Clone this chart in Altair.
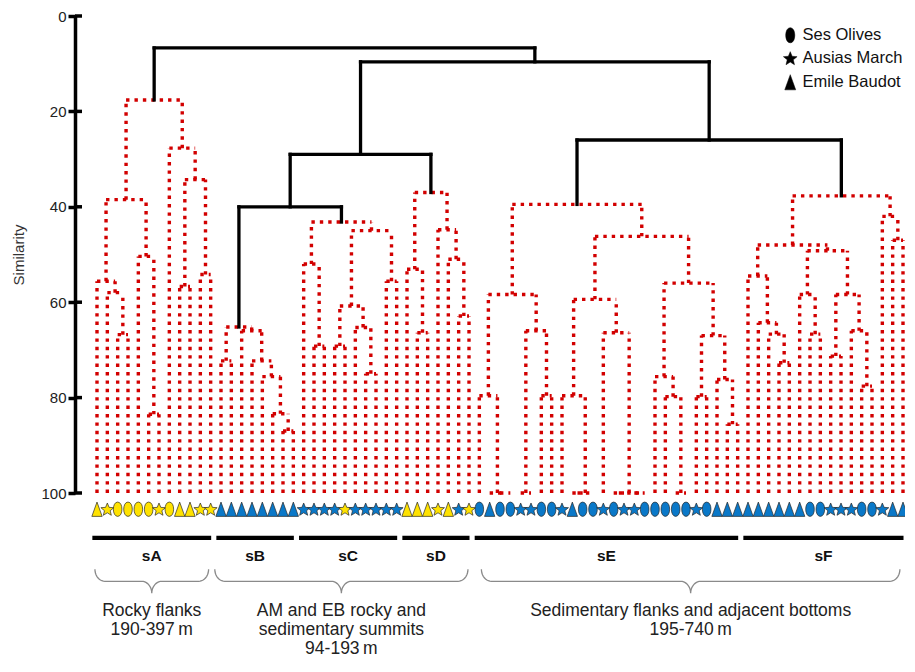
import math
import altair as alt
import pandas as pd

# ---------------- data ----------------
SITES = ["Ses Olives", "Ausias March", "Emile Baudot"]
SITE_CODE = {"O": "Ses Olives", "S": "Ausias March", "T": "Emile Baudot"}

# sample symbols, left to right (O = Ses Olives, S = Ausias March, T = Emile Baudot)
leaf_site_code = list(
    "TSOOOOSOTTSS"                  # sA
    "TTTTTTTT"                      # sB
    "SSSSSSSSSS"                    # sC
    "TTTSTSS"                       # sD
    "OTOOSSOOSTOOSOSSOOOOOSOTTT"    # sE
    "TTTTTTOOSSSOOSTT"              # sF
)
# symbol fill: Y = yellow, B = blue
leaf_fill_code = list(
    "YYYYYYYYYYYY"
    "BBBBBBBB"
    "BBBBYBBBBB"
    "YYYYYBY"
    "BBBBBBBBBBBBBBBBBBBBBBBBBB"
    "BBBBBBBBBBBBBBBB"
)

# cluster trees: [left, right, similarity]; ints are leaves
sA = [[[0, [1, [2, 3, 66.8], 58.0], 55.6], [4, [5, 6, 83.5], 50.4], 38.5],
      [7, [[8, 9, 56.7], [10, 11, 54.2], 34.3], 27.7], 17.6]
sB = [[12, 13, 72.3], [14, [15, [16, [17, [18, 19, 87.0], 83.4], 75.6], 72.3], 66.0], 65.2]
sC = [[20, [21, 22, 69.2], 52.0],
      [[[23, 24, 69.2], [25, [26, 27, 75.0], 65.3], 60.8], [28, 29, 55.6], 45.0], 43.2]
sD = [[30, [31, 32, 66.4], 53.1], [33, [34, [35, 36, 62.9], 51.0], 44.8], 37.0]
sE = [[[37, [38, [39, 40, 100.0], 100.0], 79.6], [[41, 42, 100.0], [43, 44, 79.6], 66.0], 58.4],
      [[[45, [[46, 47, 100.0], 48, 100.0], 79.6],
        [49, [[50, 51, 100.0], [52, 53, 100.0], 100.0], 66.4], 59.4],
       [[54, [55, [56, 57, 100.0], 79.8], 75.6],
        [[58, 59, 79.8], [60, [61, 62, 85.6], 76.2], 67.0], 56.0], 46.2], 39.5]
sF = [[[63, [64, [65, [66, 67, 72.7], 66.7], 64.3], 54.5],
       [[68, [69, 70, 66.7], 58.4], [[71, 72, 71.3], [73, [74, 75, 77.6], 66.0], 58.4], 49.2], 48.0],
      [76, [77, 78, 47.0], 42.0], 37.7]
clusters = {"sA": sA, "sB": sB, "sC": sC, "sD": sD, "sE": sE, "sF": sF}
# links between the groups (solid black)
skeleton = ["sA", [[["sB", "sC", 40.0], "sD", 29.0], ["sE", "sF", 26.0], 9.6], 6.7]

cluster_names = ["sA", "sB", "sC", "sD", "sE", "sF"]
cluster_first = [0, 12, 20, 30, 37, 63]
cluster_last = [11, 19, 29, 36, 62, 78]

brace_from = [-0.2, 11.4, 37.2]
brace_to = [10.8, 35.9, 77.7]
group_lines = [["Rocky flanks", "190-397\u2009m"],
               ["AM and EB rocky and", "sedimentary summits", "94-193\u2009m"],
               ["Sedimentary flanks and adjacent bottoms", "195-740\u2009m"]]

y_ticks = [0, 20, 40, 60, 80, 100]

# ---------------- layout ----------------
PLOT_W, PLOT_H = 830, 477
X_DOM = [-2.129, 78.1935]
XS = PLOT_W / (X_DOM[1] - X_DOM[0])
YS = PLOT_H / 100.0
SYM_Y, BAR_Y, LAB_Y, BRACE_Y = 103.4, 109.4, 113.3, 116.0
TEXT_Y0, TEXT_DY = 124.8, 4.0

# ---------------- build dendrogram segments ----------------
segs = []


def walk(node, kind):
    if isinstance(node, str):
        return walk(clusters[node], "red")
    if isinstance(node, int):
        return node, 100.0
    l, r, h = node
    xl, hl = walk(l, kind)
    xr, hr = walk(r, kind)
    segs.append(dict(x=xl, x2=xr, y=h, y2=h, kind=kind))
    if hl != h:
        segs.append(dict(x=xl, x2=xl, y=hl, y2=h, kind=kind))
    if hr != h:
        segs.append(dict(x=xr, x2=xr, y=hr, y2=h, kind=kind))
    return (xl + xr) / 2.0, h


walk(skeleton, "black")
seg_df = pd.DataFrame(segs)
red_df = seg_df[seg_df.kind == "red"]
black_df = seg_df[seg_df.kind == "black"]

leaf_df = pd.DataFrame({
    "x": list(range(len(leaf_site_code))),
    "y": [SYM_Y] * len(leaf_site_code),
    "site": [SITE_CODE[c] for c in leaf_site_code],
    "fillc": leaf_fill_code,
})

bar_df = pd.DataFrame({
    "name": cluster_names,
    "x": [f - 0.45 for f in cluster_first],
    "x2": [l + 0.05 for l in cluster_last],
    "y": [BAR_Y] * 6,
})
bar_df["xm"] = (bar_df.x + bar_df.x2) / 2
bar_df["ly"] = LAB_Y

brace_rows = []
for b, (xa, xb) in enumerate(zip(brace_from, brace_to)):
    rx, ry = 10.0 / XS, 12.0 / YS
    xm = (xa + xb) / 2.0
    pts = []

    def arc(cx, cy, a0, a1, n=10):
        for k in range(n + 1):
            a = a0 + (a1 - a0) * k / n
            pts.append((cx + rx * math.cos(a), cy + ry * math.sin(a)))

    arc(xa + rx, BRACE_Y, math.pi, math.pi / 2)
    arc(xm - rx, BRACE_Y + 2 * ry, -math.pi / 2, 0)
    arc(xm + rx, BRACE_Y + 2 * ry, math.pi, 1.5 * math.pi)
    arc(xb - rx, BRACE_Y, math.pi / 2, 0)
    for i, (px, py) in enumerate(pts):
        brace_rows.append(dict(b=b, i=i, x=px, y=py))
brace_df = pd.DataFrame(brace_rows)

note_rows = []
for xa, xb, lines in zip(brace_from, brace_to, group_lines):
    for k, t in enumerate(lines):
        note_rows.append(dict(x=(xa + xb) / 2.0, y=TEXT_Y0 + k * TEXT_DY, t=t))
note_df = pd.DataFrame(note_rows)

tick_df = pd.DataFrame({"y": y_ticks})

# ---------------- shapes ----------------
ellipse = "M0,-1C0.8,-1 0.8,1 0,1C-0.8,1 -0.8,-1 0,-1Z"
star_pts = []
for k in range(10):
    rad = 0.95 if k % 2 == 0 else 0.42
    a = -math.pi / 2 + k * math.pi / 5
    star_pts.append(f"{rad * math.cos(a):.3f},{rad * math.sin(a) + 0.08:.3f}")
star = "M" + "L".join(star_pts) + "Z"
tri = "M0,-1L0.72,1L-0.72,1Z"

# ---------------- chart ----------------
FONT = "Liberation Sans"
xs = alt.Scale(domain=X_DOM, nice=False, zero=False)
ys = alt.Scale(domain=[0, 100], reverse=True, nice=False, zero=False)
yaxis = alt.Axis(values=y_ticks, title="Similarity", domainColor="black", domainWidth=3.5,
                 tickColor="black", tickWidth=3.5, tickSize=7, labelFont=FONT,
                 labelFontSize=15, labelColor="#222", labelPadding=2, grid=False,
                 titleFont=FONT, titleFontSize=15, titleFontWeight="normal",
                 titleColor="#333", titlePadding=14)


def X(f="x"):
    return alt.X(f"{f}:Q", scale=xs, axis=None)


def Y(f="y"):
    return alt.Y(f"{f}:Q", scale=ys, axis=yaxis)


red = alt.Chart(red_df).mark_rule(color="#D20000", strokeWidth=3.4, strokeDash=[3.4, 5.0],
                                  strokeCap="butt").encode(
    x=X(), x2="x2:Q", y=Y(), y2="y2:Q")
black = alt.Chart(black_df).mark_rule(color="black", strokeWidth=3.3, strokeCap="square").encode(
    x=X(), x2="x2:Q", y=Y(), y2="y2:Q")
inticks = alt.Chart(tick_df).mark_rule(color="black", strokeWidth=3.5).encode(
    x=alt.value(0), x2=alt.value(7), y=Y())

symbols = alt.Chart(leaf_df).mark_point(filled=True, size=205, stroke="#2a2a2a",
                                        strokeWidth=0.7, opacity=1).encode(
    x=X(), y=Y(),
    shape=alt.Shape("site:N", scale=alt.Scale(domain=SITES, range=[ellipse, star, tri]),
                    legend=alt.Legend(orient="none", legendX=707, legendY=11, title=None,
                                      labelFont=FONT, labelFontSize=16.5, labelColor="#111",
                                      symbolSize=230, symbolFillColor="black",
                                      symbolStrokeColor="black", symbolStrokeWidth=0.5,
                                      rowPadding=6, labelOffset=4, padding=0)),
    fill=alt.Fill("fillc:N", scale=alt.Scale(domain=["Y", "B"], range=["#FFE200", "#0A78C8"]),
                  legend=None),
)

bars = alt.Chart(bar_df).mark_rule(color="black", strokeWidth=4.2).encode(
    x=X(), x2="x2:Q", y=Y())
labels = alt.Chart(bar_df).mark_text(font=FONT, fontSize=15.5, fontWeight="bold",
                                     color="#111", baseline="middle").encode(
    x=X("xm"), y=Y("ly"), text="name:N")
braces = alt.Chart(brace_df).mark_line(color="#8a8a8a", strokeWidth=1.3).encode(
    x=X(), y=Y(), detail="b:N", order="i:Q")
notes = alt.Chart(note_df).mark_text(font=FONT, fontSize=17.5, color="#222",
                                     baseline="middle").encode(
    x=X(), y=Y(), text="t:N")

chart = alt.layer(red, black, inticks, symbols, bars, labels, braces, notes).properties(
    width=PLOT_W, height=PLOT_H,
    autosize=alt.AutoSizeParams(type="none"),
    padding={"left": 67, "top": 8, "right": 0, "bottom": 166},
).configure_view(stroke=None)

chart.save("out.html", embed_options={"renderer": "svg", "actions": False})
